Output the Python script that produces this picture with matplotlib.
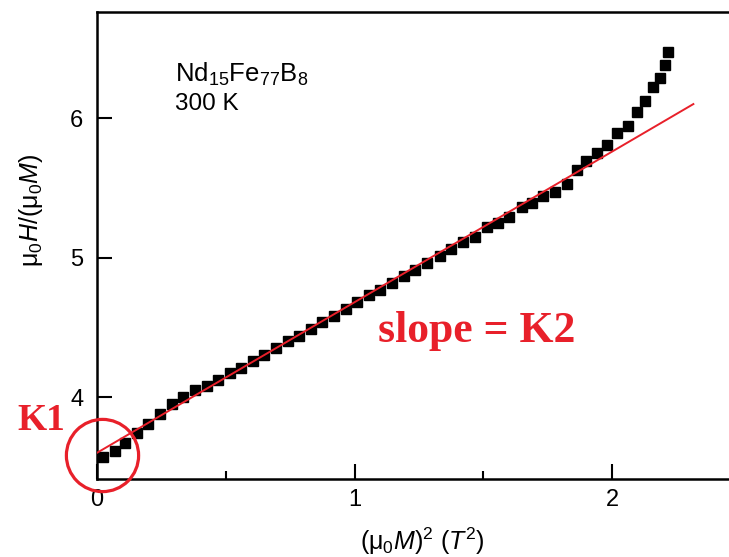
import matplotlib.pyplot as plt
import numpy as np

plt.rcParams['font.family'] = ['Liberation Sans', 'DejaVu Sans']
plt.rcParams['mathtext.fontset'] = 'custom'
plt.rcParams['mathtext.rm'] = 'Liberation Sans'
plt.rcParams['mathtext.it'] = 'Liberation Sans:italic'

# (mu0 M)^2 in T^2 and mu0 H / (mu0 M)
m2 = [0.023, 0.070, 0.109, 0.155, 0.198, 0.245, 0.291, 0.334, 0.381, 0.425,
      0.470, 0.515, 0.560, 0.605, 0.650, 0.695, 0.740, 0.785, 0.830, 0.875,
      0.920, 0.965, 1.010, 1.055, 1.100, 1.145, 1.190, 1.235, 1.280, 1.330,
      1.375, 1.421, 1.468, 1.515, 1.557, 1.600, 1.650, 1.689, 1.732, 1.779,
      1.825, 1.864, 1.899, 1.942, 1.981, 2.019, 2.062, 2.097, 2.128, 2.159,
      2.186, 2.206, 2.217]
h_over_m = [3.57, 3.61, 3.67, 3.74, 3.81, 3.88, 3.95, 4.00, 4.05, 4.08,
            4.12, 4.17, 4.21, 4.26, 4.30, 4.35, 4.40, 4.44, 4.49, 4.54,
            4.58, 4.63, 4.68, 4.73, 4.77, 4.82, 4.87, 4.91, 4.96, 5.01,
            5.06, 5.11, 5.15, 5.22, 5.25, 5.29, 5.36, 5.39, 5.44, 5.47,
            5.53, 5.63, 5.69, 5.75, 5.81, 5.89, 5.94, 6.04, 6.12, 6.22,
            6.29, 6.38, 6.47]

# straight-line fit: intercept K1, slope K2
k1 = 3.60
k2 = 1.08
fit_x = [0.0, 2.315]

red = '#e8202a'

fig = plt.figure(figsize=(7.29, 5.57), dpi=100)
ax = fig.add_axes([0.1331, 0.140, 0.894, 0.8384])

fx = np.array(fit_x)
ax.plot(fx, k1 + k2 * fx, color=red, lw=1.4, zorder=3)
ax.plot(m2, h_over_m, 's', color='black', ms=7, zorder=2)

# circle around the intercept
ax.plot([0.019], [3.584], 'o', mfc='none', mec=red, ms=52, mew=2.3,
        clip_on=False, zorder=4)

ax.set_xlim(0, 2.53)
ax.set_ylim(3.412, 6.76)
ax.set_xticks([0, 1, 2])
ax.set_xticks([0.5, 1.5], minor=True)
ax.set_yticks([4, 5, 6])
ax.tick_params(which='both', direction='in', labelsize=17, width=1.5,
               top=False, right=False)
ax.tick_params(which='major', length=11)
ax.tick_params(axis='y', which='major', pad=10)
ax.tick_params(axis='x', which='major', pad=7)
ax.tick_params(which='minor', length=6)
for s in ax.spines.values():
    s.set_linewidth(1.8)

ax.set_xlabel('(μ$_0M$)$^2$ ($T^2$)', fontsize=18)
ax.xaxis.set_label_coords(0.5, -0.100)
ax.set_ylabel('μ$_0H$/(μ$_0M$)', fontsize=18)
ax.yaxis.set_label_coords(-0.080, 0.576)

ax.text(0.303, 6.258, 'Nd$_{15}$Fe$_{77}$B$_8$', fontsize=18.5, va='baseline')
ax.text(0.303, 6.057, '300 K', fontsize=17.5, va='baseline')

ax.text(-0.31, 3.76, 'K1', color=red, fontsize=27, fontweight='bold',
        family='Liberation Serif', va='baseline', clip_on=False)
ax.text(1.09, 4.394, 'slope = K2', color=red, fontsize=31.5, fontweight='bold',
        family='Liberation Serif', va='baseline')

fig.savefig('out.png', dpi=100)
